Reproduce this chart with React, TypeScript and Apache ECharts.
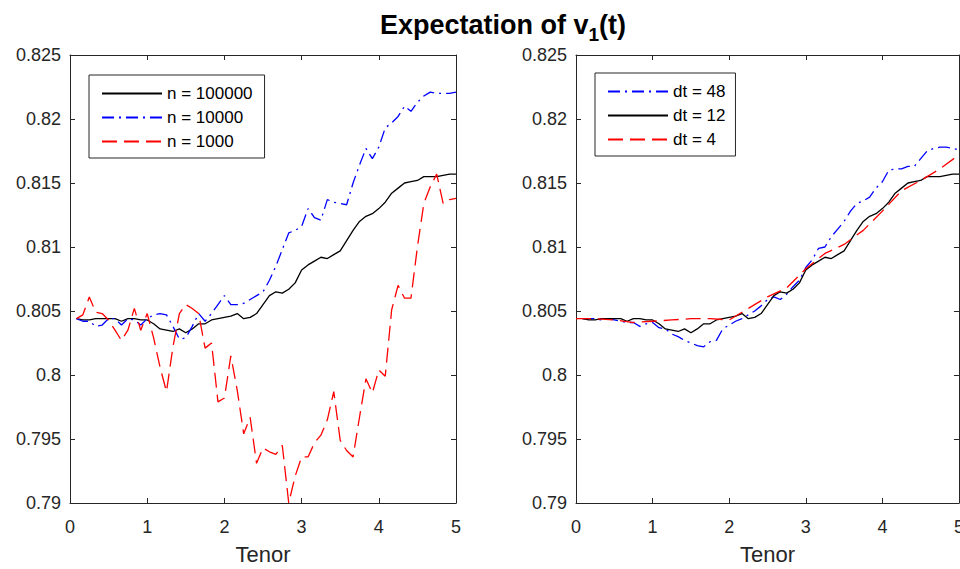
import React, { useEffect, useRef } from "react";
import * as echarts from "echarts";

// Tenor grids (years)
const tenorMonthly: number[] = Array.from({ length: 60 }, (_, i) => (i + 1) / 12);
const tenorQuarterly: number[] = Array.from({ length: 21 }, (_, i) => i / 4);

const xTicks = [0, 1, 2, 3, 4, 5];

// Left panel: number of paths
const n100000 = [
  0.8044, 0.8043, 0.8043, 0.8044, 0.8044, 0.8044, 0.8044, 0.8042, 0.8044, 0.8044,
  0.8043, 0.8043, 0.804, 0.8036, 0.8035, 0.8034, 0.8036, 0.8033, 0.8036, 0.804,
  0.804, 0.8043, 0.8044, 0.8045, 0.8046, 0.8048, 0.8044, 0.8045, 0.8048, 0.8055,
  0.8062, 0.8065, 0.8064, 0.8067, 0.8072, 0.8082, 0.8086, 0.8089, 0.8092, 0.8091,
  0.8094, 0.8097, 0.8105, 0.8113, 0.812, 0.8124, 0.8126, 0.813, 0.8135, 0.8142,
  0.8146, 0.815, 0.8151, 0.8152, 0.8155, 0.8155, 0.8155, 0.8156, 0.8157, 0.8157,
];
const n10000 = [
  0.8044, 0.8042, 0.8042, 0.8038, 0.8039, 0.8044, 0.8044, 0.8039, 0.8044, 0.8043,
  0.8039, 0.8044, 0.8047, 0.8048, 0.8047, 0.8038, 0.8028, 0.8029, 0.8038, 0.8048,
  0.8042, 0.8048, 0.8055, 0.8062, 0.8055, 0.8055, 0.8056, 0.8059, 0.8062, 0.8065,
  0.8074, 0.8085, 0.8098, 0.8111, 0.8113, 0.8116, 0.813, 0.8123, 0.8121, 0.8137,
  0.8135, 0.8134, 0.8133, 0.815, 0.8164, 0.8177, 0.8169, 0.8178, 0.8193, 0.8197,
  0.8202, 0.821, 0.8206, 0.8213, 0.8218, 0.8221, 0.822, 0.822, 0.822, 0.8221,
];
const n1000 = [
  0.8044, 0.8047, 0.8061, 0.8049, 0.8048, 0.8043, 0.8035, 0.8027, 0.8035, 0.8052,
  0.8035, 0.8048, 0.8029, 0.8006, 0.7987, 0.8022, 0.8048, 0.8055, 0.8052, 0.8048,
  0.8021, 0.8025, 0.7979, 0.7982, 0.8015, 0.7988, 0.7954, 0.7967, 0.7931, 0.7943,
  0.794, 0.7938, 0.7945, 0.79, 0.7921, 0.7936, 0.7936, 0.7947, 0.7953, 0.7965,
  0.7987, 0.7949, 0.7941, 0.7936, 0.7967, 0.7997, 0.7986, 0.8004, 0.7999, 0.8051,
  0.807, 0.806, 0.806, 0.81, 0.8134, 0.8147, 0.8157, 0.8134, 0.8137, 0.8138,
];

// Right panel: time steps per year
const dt48 = [
  0.8044, 0.8044, 0.8044, 0.8043, 0.8044, 0.8043, 0.8042, 0.8041, 0.8041, 0.8038,
  0.804, 0.8041, 0.8037, 0.8036, 0.8032, 0.803, 0.8027, 0.8025, 0.8023, 0.8022,
  0.8026, 0.8027, 0.8036, 0.8039, 0.8042, 0.8044, 0.8047, 0.805, 0.8054, 0.8059,
  0.8061, 0.8059, 0.8063, 0.8069, 0.8074, 0.8084, 0.809, 0.8099, 0.81, 0.8108,
  0.8114, 0.812, 0.8128, 0.8134, 0.8136, 0.8139, 0.8146, 0.8151, 0.816, 0.8161,
  0.8161, 0.8163, 0.8163, 0.8169, 0.8175, 0.8177, 0.8178, 0.8178, 0.8177, 0.8176,
];
const dt12 = n100000;
const dt4 = [
  0.8044, 0.8044, 0.8043, 0.8041, 0.8042, 0.8043, 0.8044, 0.8044, 0.8043, 0.8052,
  0.8061, 0.8068, 0.8083, 0.8095, 0.8102, 0.8113, 0.8128, 0.8144, 0.8152, 0.8161,
  0.8172,
];

const FONT = "'Liberation Sans', Arial, Helvetica, sans-serif";
const AXIS_COLOR = "#262626";
const DASH = [15, 7];
const DASH_DOT = [12, 5, 2, 5];

const pairs = (xs: number[], ys: number[]) => ys.map((v, i) => [xs[i], v]);

const yFmt = (v: number) => String(parseFloat(v.toFixed(3)));

function makeAxes(gridIndex: number) {
  const common = {
    gridIndex,
    type: "value" as const,
    axisLine: { show: true, onZero: false, lineStyle: { color: AXIS_COLOR, width: 1 } },
    axisTick: { show: true, inside: true, length: 5, lineStyle: { color: AXIS_COLOR, width: 1 } },
    splitLine: { show: false },
  };
  const x = [
    {
      ...common,
      position: "bottom",
      min: xTicks[0],
      max: xTicks[xTicks.length - 1],
      interval: 1,
      axisLabel: { show: true, margin: 15, fontSize: 18, fontFamily: FONT, color: AXIS_COLOR },
      name: "Tenor",
      nameLocation: "middle",
      nameGap: 40,
      nameTextStyle: { fontSize: 22, fontFamily: FONT, color: AXIS_COLOR },
    },
    {
      ...common,
      position: "top",
      min: xTicks[0],
      max: xTicks[xTicks.length - 1],
      interval: 1,
      axisLabel: { show: false },
    },
  ];
  const y = [
    {
      ...common,
      position: "left",
      min: 0.79,
      max: 0.825,
      interval: 0.005,
      axisLabel: { show: true, margin: 9, fontSize: 18, fontFamily: FONT, color: AXIS_COLOR, formatter: yFmt },
    },
    {
      ...common,
      position: "right",
      min: 0.79,
      max: 0.825,
      interval: 0.005,
      axisLabel: { show: false },
    },
  ];
  return { x, y };
}

function line(name: string, xs: number[], ys: number[], color: string, type: any, axisIdx: number) {
  return {
    name,
    type: "line",
    xAxisIndex: axisIdx,
    yAxisIndex: axisIdx,
    data: pairs(xs, ys),
    symbol: "none",
    showSymbol: false,
    lineStyle: { color, width: 1.3, type },
    itemStyle: { color },
    emphasis: { disabled: true },
  };
}

const legendBase = {
  orient: "vertical",
  itemWidth: 60,
  itemHeight: 14,
  itemGap: 7,
  borderColor: AXIS_COLOR,
  borderWidth: 1,
  backgroundColor: "#ffffff",
  selectedMode: false,
  itemStyle: { opacity: 0 },
  textStyle: { fontSize: 17, fontFamily: FONT, color: "#000", lineHeight: 17 },
};

export default function App() {
  const ref = useRef<HTMLDivElement>(null);
  useEffect(() => {
    if (!ref.current) return;
    const chart = echarts.init(ref.current, undefined, { renderer: "svg" });
    const a0 = makeAxes(0);
    const a1 = makeAxes(1);
    chart.setOption({
      animation: false,
      backgroundColor: "#ffffff",
      title: {
        text: "{a|Expectation of v}{b|1}{a|(t)}",
        left: 503,
        top: 11,
        padding: 0,
        textAlign: "center",
        textStyle: {
          rich: {
            a: { fontSize: 27, fontWeight: "bold", fontFamily: FONT, color: "#000", lineHeight: 26, verticalAlign: "top" },
            b: { fontSize: 19, fontWeight: "bold", fontFamily: FONT, color: "#000", lineHeight: 33, verticalAlign: "bottom" },
          },
        },
      },
      grid: [
        { left: 70, right: 504, top: 55, bottom: 66, outerBoundsMode: "none" },
        { left: 576, right: 1, top: 55, bottom: 66, outerBoundsMode: "none" },
      ],
      xAxis: [...a0.x, ...a1.x],
      yAxis: [...a0.y, ...a1.y],
      legend: [
        {
          ...legendBase,
          left: 89,
          top: 75,
          padding: [10, 12, 8, 12],
          data: ["n = 100000", "n = 10000", "n = 1000"],
        },
        {
          ...legendBase,
          left: 595,
          top: 73,
          padding: [10, 10, 8, 12],
          data: ["dt = 48", "dt = 12", "dt = 4"],
        },
      ],
      series: [
        line("n = 100000", tenorMonthly, n100000, "#000000", "solid", 0),
        line("n = 10000", tenorMonthly, n10000, "#0000ff", DASH_DOT, 0),
        line("n = 1000", tenorMonthly, n1000, "#ff0000", DASH, 0),
        line("dt = 48", tenorMonthly, dt48, "#0000ff", DASH_DOT, 2),
        line("dt = 12", tenorMonthly, dt12, "#000000", "solid", 2),
        line("dt = 4", tenorQuarterly, dt4, "#ff0000", DASH, 2),
      ],
    });
    return () => chart.dispose();
  }, []);
  return (
    <div
      ref={ref}
      style={{ position: "fixed", left: 0, top: 0, width: 960, height: 569, background: "#fff" }}
    />
  );
}
